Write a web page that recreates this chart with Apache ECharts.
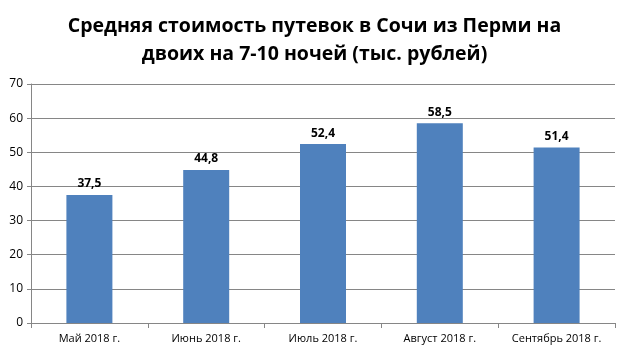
<!DOCTYPE html>
<html>
<head>
<meta charset="utf-8">
<script src="https://cdn.jsdelivr.net/npm/echarts@6/dist/echarts.min.js"></script>
<style>
  html, body { margin: 0; padding: 0; background: #fff; }
  #chart { width: 629px; height: 352px; }
</style>
</head>
<body>
<div id="chart"></div>
<script>
var months = ['Май 2018 г.', 'Июнь 2018 г.', 'Июль 2018 г.', 'Август 2018 г.', 'Сентябрь 2018 г.'];
var prices = [37.5, 44.8, 52.4, 58.5, 51.4];

var chart = echarts.init(document.getElementById('chart'));

var option = {
  backgroundColor: '#ffffff',
  animation: false,
  title: {
    text: 'Средняя стоимость путевок в Сочи из Перми на\nдвоих на 7-10 ночей (тыс. рублей)',
    left: 'center',
    top: 7,
    textStyle: {
      fontFamily: 'Open Sans',
      fontSize: 19.5,
      fontWeight: 'bold',
      color: '#000',
      lineHeight: 28
    }
  },
  grid: {
    left: 31,
    right: 14,
    top: 84,
    bottom: 29
  },
  xAxis: {
    type: 'category',
    data: months,
    axisLine: { lineStyle: { color: '#868686' } },
    axisTick: { show: true, length: 5, lineStyle: { color: '#868686' } },
    axisLabel: { fontFamily: 'Open Sans', fontSize: 11, color: '#000', margin: 10 }
  },
  yAxis: {
    type: 'value',
    min: 0,
    max: 70,
    interval: 10,
    axisLine: { show: true, lineStyle: { color: '#868686' } },
    axisTick: { show: true, length: 4, lineStyle: { color: '#868686' } },
    axisLabel: { fontFamily: 'Open Sans', fontSize: 12, color: '#000', margin: 8 },
    splitLine: { lineStyle: { color: '#868686' } }
  },
  series: [{
    type: 'bar',
    data: prices,
    barWidth: 46,
    itemStyle: { color: '#4f81bd' },
    label: {
      show: true,
      position: 'top',
      distance: 5,
      fontFamily: 'Open Sans',
      fontSize: 12,
      fontWeight: 'bold',
      color: '#000',
      formatter: function (p) {
        return p.value.toFixed(1).replace('.', ',');
      }
    }
  }]
};

chart.setOption(option);
</script>
</body>
</html>
